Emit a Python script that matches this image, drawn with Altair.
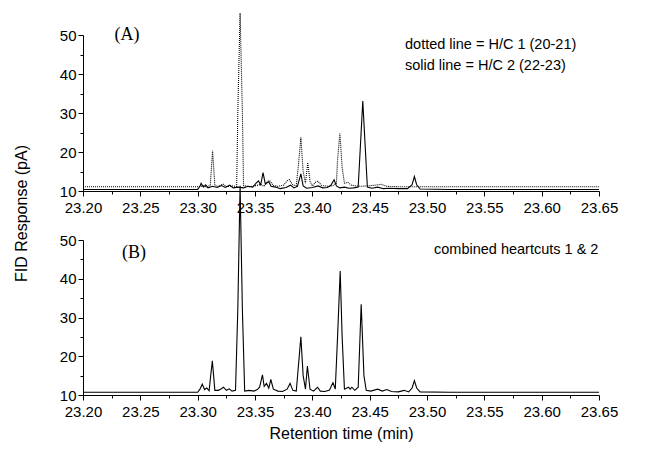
import altair as alt
import pandas as pd

# ---- data ----
# Panel A, solid line = H/C 2 (22-23)
a_solid_t = [23.200, 23.300, 23.302, 23.303, 23.305, 23.307, 23.309, 23.313, 23.317, 23.321,
             23.324, 23.328, 23.331, 23.335, 23.340, 23.344, 23.348, 23.351, 23.353, 23.355,
             23.357, 23.359, 23.362, 23.364, 23.368, 23.372, 23.377, 23.381, 23.384, 23.387,
             23.390, 23.392, 23.395, 23.400, 23.405, 23.409, 23.413, 23.416, 23.419, 23.421,
             23.424, 23.428, 23.432, 23.436, 23.440, 23.442, 23.444, 23.446, 23.448, 23.452,
             23.457, 23.462, 23.467, 23.475, 23.483, 23.487, 23.489, 23.491, 23.494, 23.520,
             23.650]
a_solid_y = [10.4, 10.4, 11.2, 12.0, 11.0, 11.6, 10.8, 11.2, 10.9, 11.4,
             10.9, 11.5, 10.8, 11.0, 10.8, 11.2, 11.0, 12.0, 12.6, 11.6,
             14.7, 11.8, 12.4, 11.2, 11.0, 10.6, 10.9, 11.5, 10.8, 11.2,
             14.4, 11.3, 10.7, 10.9, 11.3, 10.8, 10.9, 11.4, 12.9, 11.3,
             10.8, 11.0, 10.7, 10.8, 11.0, 22.0, 33.1, 22.0, 11.0, 10.7,
             11.0, 10.6, 10.7, 10.6, 10.6, 11.6, 13.7, 11.6, 10.5, 10.4,
             10.4]

# Panel A, dotted line = H/C 1 (20-21)
a_dot_t = [23.200, 23.300, 23.305, 23.308, 23.311, 23.313, 23.315, 23.318, 23.322, 23.325,
           23.330, 23.334, 23.335, 23.337, 23.339, 23.340, 23.345, 23.350, 23.355, 23.358,
           23.361, 23.363, 23.366, 23.370, 23.375, 23.378, 23.380, 23.383, 23.386, 23.388,
           23.390, 23.392, 23.394, 23.396, 23.398, 23.400, 23.403, 23.405, 23.408, 23.414,
           23.418, 23.421, 23.422, 23.424, 23.426, 23.428, 23.431, 23.434, 23.438, 23.442,
           23.448, 23.455, 23.460, 23.465, 23.475, 23.650]
a_dot_y = [11.1, 11.1, 11.3, 11.0, 11.5, 20.3, 11.4, 11.2, 11.8, 11.1,
           11.3, 11.2, 30.0, 55.6, 30.0, 11.4, 11.1, 11.3, 11.7, 11.2,
           12.5, 12.6, 11.4, 11.2, 11.5, 12.6, 12.9, 11.5, 11.4, 17.0,
           23.7, 15.0, 12.0, 17.3, 12.5, 11.3, 12.3, 12.5, 11.4, 11.2,
           11.4, 12.0, 18.0, 24.8, 16.0, 12.0, 12.2, 11.5, 11.3, 11.2,
           11.3, 11.5, 11.7, 11.2, 11.1, 11.1]

# Panel B, combined heartcuts 1 & 2
b_t = [23.200, 23.300, 23.302, 23.304, 23.306, 23.308, 23.310, 23.311, 23.3128, 23.315,
       23.318, 23.320, 23.3225, 23.325, 23.3275, 23.330, 23.333, 23.335, 23.337, 23.339,
       23.341, 23.345, 23.349, 23.352, 23.354, 23.3565, 23.358, 23.360, 23.362, 23.3638,
       23.366, 23.370, 23.374, 23.378, 23.3806, 23.383, 23.386, 23.388, 23.390, 23.392,
       23.394, 23.3957, 23.398, 23.401, 23.4045, 23.407, 23.411, 23.415, 23.418, 23.420,
       23.422, 23.4243, 23.426, 23.428, 23.4315, 23.433, 23.4345, 23.437, 23.440, 23.4426,
       23.445, 23.447, 23.451, 23.457, 23.461, 23.465, 23.469, 23.475, 23.480, 23.484,
       23.487, 23.489, 23.491, 23.494, 23.520, 23.650]
b_y = [10.7, 10.7, 11.5, 12.8, 11.4, 11.8, 11.1, 14.0, 18.8, 11.2,
       11.2, 11.5, 12.0, 11.2, 11.6, 11.0, 11.2, 32.0, 64.0, 32.0,
       11.0, 11.2, 11.0, 11.4, 12.0, 15.2, 12.2, 13.0, 11.8, 14.0,
       11.5, 11.0, 10.9, 11.5, 13.0, 11.2, 11.0, 18.0, 25.0, 15.0,
       11.5, 17.5, 11.5, 11.0, 12.0, 11.0, 10.9, 11.3, 13.2, 11.5,
       25.0, 42.0, 25.0, 11.5, 12.0, 11.5, 12.0, 11.2, 12.0, 33.4,
       15.0, 11.2, 11.0, 11.5, 11.0, 11.4, 10.9, 10.8, 11.2, 10.8,
       11.8, 13.7, 11.8, 10.8, 10.7, 10.7]

x_ticks = [23.200, 23.225, 23.250, 23.275, 23.300, 23.325, 23.350, 23.375, 23.400, 23.425,
           23.450, 23.475, 23.500, 23.525, 23.550, 23.575, 23.600, 23.625, 23.650]
y_ticks = [10, 15, 20, 25, 30, 35, 40, 45, 50]

legend_a = ["dotted line = H/C 1 (20-21)", "solid line = H/C 2 (22-23)"]
legend_b = ["combined heartcuts 1 & 2"]

FONT = "Liberation Sans"
W, H = 516, 156

a_solid = pd.DataFrame({"t": a_solid_t, "y": a_solid_y})
a_dot = pd.DataFrame({"t": a_dot_t, "y": a_dot_y})
b_df = pd.DataFrame({"t": b_t, "y": b_y})


def x_axis(title):
    kw = dict(
        values=x_ticks,
        format=".2f",
        labelExpr="round(datum.value*1000) % 50 == 0 ? datum.label : ''",
        tickSize={"condition": {"test": "round(datum.value*1000) % 50 != 0", "value": 3}, "value": 5},
        labelFont=FONT, labelFontSize=15, labelColor="black", labelPadding=4,
        domainColor="black", tickColor="black", grid=False,
        labelFlush=False, labelOverlap=False,
    )
    if title:
        kw.update(title=title, titleFont=FONT, titleFontSize=16, titleFontWeight="normal",
                  titleColor="black", titlePadding=6)
    else:
        kw.update(title=None)
    return alt.Axis(**kw)


def y_axis(with_title):
    kw = dict(
        values=y_ticks,
        format="d",
        labelExpr="datum.value % 10 == 0 ? datum.label : ''",
        tickSize={"condition": {"test": "datum.value % 10 != 0", "value": 3}, "value": 5},
        labelFont=FONT, labelFontSize=15, labelColor="black", labelPadding=2,
        domainColor="black", tickColor="black", grid=False, labelFlush=False,
        labelOverlap=False,
    )
    if with_title:
        kw.update(title="FID Response (pA)", titleFont=FONT, titleFontSize=16,
                  titleFontWeight="normal", titleColor="black", titlePadding=30,
                  titleY=178)
    else:
        kw.update(title=None)
    return alt.Axis(**kw)


xs = alt.Scale(domain=[23.2, 23.65], nice=False, zero=False)
ys = alt.Scale(domain=[10, 50], nice=False, zero=False)


def note(text, x, y, serif=False):
    return alt.Chart(pd.DataFrame({"s": [text]})).mark_text(
        font="Liberation Serif" if serif else FONT,
        fontSize=18 if serif else 14.5,
        color="black", align="center" if serif else "left", baseline="middle",
    ).encode(text="s:N", x=alt.value(x), y=alt.value(y))


top_dot = alt.Chart(a_dot).mark_line(color="black", strokeWidth=1.1, strokeDash=[1, 1]).encode(
    x=alt.X("t:Q", scale=xs, axis=x_axis(None)),
    y=alt.Y("y:Q", scale=ys, axis=y_axis(True)),
)
top_solid = alt.Chart(a_solid).mark_line(color="black", strokeWidth=1.1).encode(
    x=alt.X("t:Q", scale=xs, axis=x_axis(None)),
    y=alt.Y("y:Q", scale=ys, axis=y_axis(True)),
)

top = alt.layer(
    top_dot, top_solid,
    note("(A)", 44, 0, serif=True),
    note(legend_a[0], 322, 10),
    note(legend_a[1], 322, 31),
).properties(width=W, height=H)

bot_line = alt.Chart(b_df).mark_line(color="black", strokeWidth=1.1).encode(
    x=alt.X("t:Q", scale=xs, axis=x_axis("Retention time (min)")),
    y=alt.Y("y:Q", scale=ys, axis=y_axis(False)),
)

bottom = alt.layer(
    bot_line,
    note("(B)", 51, 13, serif=True),
    note(legend_b[0], 351, 10),
).properties(width=W, height=155)

chart = alt.vconcat(top, bottom, spacing=49, bounds="flush").properties(
    padding={"left": 5, "top": 2, "right": 5, "bottom": 5},
    background="white",
).resolve_scale(x="independent", y="independent").configure_view(stroke=None)

chart.save("out.html", embed_options={"renderer": "svg", "actions": False})
